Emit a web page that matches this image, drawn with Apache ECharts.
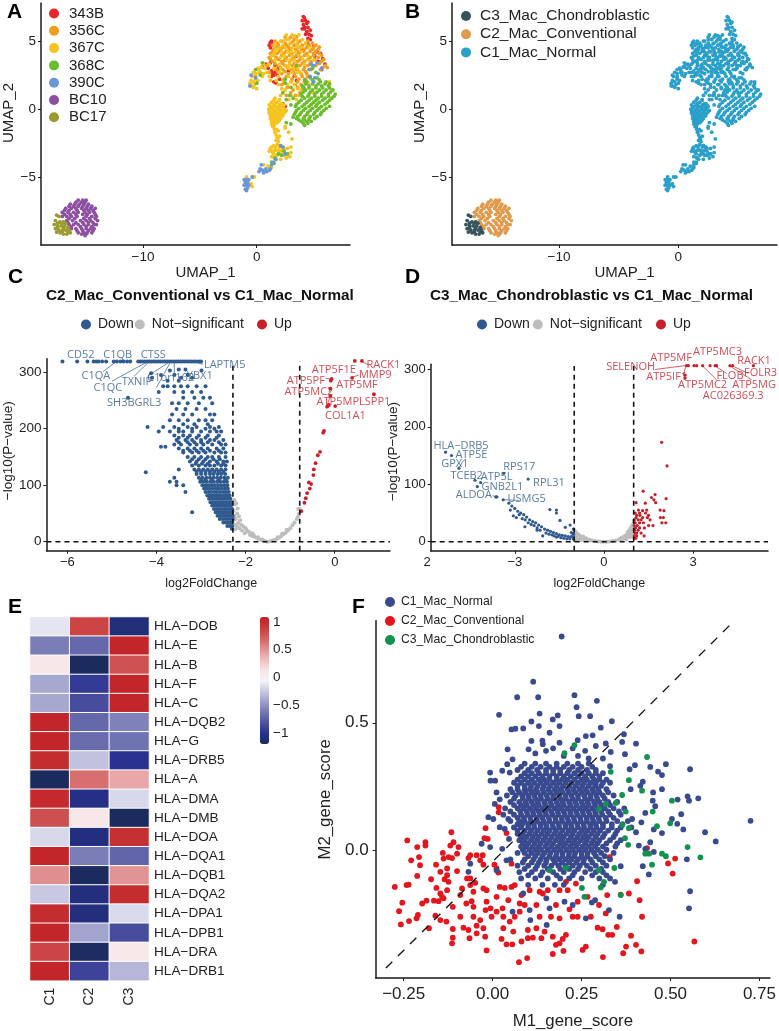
<!DOCTYPE html>
<html><head><meta charset="utf-8">
<style>html,body{margin:0;padding:0;background:#fff}#c{width:779px;height:1031px}</style>
<script src="https://cdn.jsdelivr.net/npm/echarts@6/dist/echarts.min.js"></script></head>
<body><div id="c"></div>
<script>
// rows: [y, x, x, ...]   pairs: x,y,x,y,...
const rows = rs => rs.flatMap(([y, ...xs]) => xs.map(x => [x, y]));
const pairs = a => { const o = []; for (let i = 0; i < a.length; i += 2) o.push([a[i], a[i + 1]]); return o; };

const umap343B = pairs([4.1,6.8,4.0,6.5,4.2,6.7,4.3,6.5,4.1,6.2,4.4,6.3,4.5,6.0,4.2,5.9,4.4,5.7,4.7,5.8,4.6,5.5,4.3,5.5,4.8,5.4,4.5,5.2,4.7,5.1,4.2,6.0,4.5,6.4,4.0,5.9,1.2,4.9,1.3,5.0,1.1,4.7,1.4,4.8,1.2,4.5,.8,3.3,1,3.0,1.2,3.4,1.3,2.8,1.5,2.5,1.4,2.6,1.6,2.7,1.3,2.4,1.6,3.2,.5,3.1,1.8,2.5,2,2.2,1.5,2.0,1.7,1.9,1.9,3.0,5.1,3.9,5.3,4.2,5.6,4.1,5.8,3.7,5.4,3.5,6,3.3,5.0,4.6,4.5,4.8,4,4.4,3.5,3.9,3,4.2,2.5,3.6,5.7,2.9,2.3,.4,2.5,.2,3.5,2.1,4.1,1.6,2.8,2.8,3.3,2.4]);
const umap356C = rows([[5.3,2.5,3.0,3.5],[5.15,2.8,3.3],[5,1.6,2.2,3.2,3.8,4.5],[4.85,1.8,2.5,3,3.6,4.3,4.9],[4.7,1.4,1.9,2.6,3.3,4,4.6,5.2],[4.55,1.7,2.3,2.8,3.7,4.4,5,5.5],[4.4,1.5,2.1,2.9,3.4,4.2,4.9,5.4],[4.25,1.4,2,2.6,3.6,4.1,4.7,5.2],[4.1,1.2,1.8,2.4,3.1,3.7,4.4,5,5.5],[3.95,1.5,2.2,2.9,3.5,4.2,5,5.7],[3.8,1.1,1.7,2.6,3.3,3.9,4.7,5.4],[3.65,1.2,1.9,2.5,3.1,3.8,4.5,5.1,5.9],[3.5,1.4,2.2,2.9,3.6,4.2,4.8,5.7],[3.35,1.6,2.3,3.3,4,4.7,5.5],[3.2,.9,1.9,2.5,3.1,3.8,4.5,5.2,6],[3.05,2.1,2.7,3.4,4.2,4.9,5.8,6.2],[2.9,1.7,2.3,3,3.5,4.1,4.8,5.6],[2.75,1.9,2.5,3.2,3.7,4.3],[2.7,.3,1.1],[2.6,2.2,2.8,3.3,3.9,4.4],[2.4,-.1,2.6,3.4,4,4.5],[2.2,2.4,3.1,3.7,4.3],[2,2.4,3,3.6,4.2],[1.8,2.2,3.4,3.9],[1.6,2.7,3.6],[1.4,3.2,4.1],[1.2,3,3.8],[1.0,2.6,3.4]]);
const umap367C = pairs([3.3,5.4,2.8,5.1,2.1,5.0,1.7,4.4,2.3,4.7,3.6,4.6,2.7,4.2,3.4,4.2,1.5,4.0,2.1,3.8,2.9,3.6,4,3.7,3.2,3,2.6,3.2,3.8,2.7,.2,2.9,-.1,2.6,-.3,2.0,-.6,1.9,-.5,1.7,-.3,1.6,0,1.5,-.1,2.2,.4,3.1,.6,2.6,1.2,2.1,2.2,1.5,3,2,3.6,1.5,4.5,1.9,5,1.2,6.4,2,6.6,1.4,1.6,.8,1.3,.5,1.8,.5,1.1,.3,1.5,.3,2,.3,2.4,.3,1.2,.1,1.6,.1,1.9,.1,2.3,.1,1.1,-.1,1.4,-.1,1.8,-.1,2.2,-.1,2.6,-.1,1.1,-.3,1.5,-.3,1.7,-.3,2,-.3,2.4,-.3,1.2,-.5,1.6,-.5,1.9,-.5,2.3,-.5,1.2,-.7,1.5,-.7,1.8,-.7,2.1,-.7,1.3,-.9,1.6,-.9,1.9,-.9,1.3,-1.1,1.6,-1.1,1.4,-1.3,1.5,-1.3,2.5,-1.3,1.6,-1.7,1.9,-1.6,1.7,-1.9,1.8,-2.1,2,-2.0,1.7,-2.3,1.9,-2.4,2.5,-1.4,2.8,-1.7,3.1,-2.2,1.2,-2.9,1.5,-2.7,1.8,-2.6,2.1,-2.7,1.1,-3.1,1.4,-3.2,1.7,-3.0,2,-3.1,2.4,-2.9,2.7,-2.9,1.3,-3.5,1.8,-3.4,2.4,-3.4,2.9,-3.5,3,-3.2,3,-2.8,2.1,-3.7,1.0,-4.2,.6,-4.1,1.3,-4.3,-.2,-5,-.5,-5.5,-.9,-5,-.4,-5.7]).concat(rows([[5.45,2.6,3.1,3.7],[5.1,2.5,3.5,4],[4.8,1.6,2.9,3.5,4.3],[4.5,2,2.5,3.1,3.9,4.6],[4.2,1.6,2.2,3,3.9],[3.9,1.3,2.4,3.1,3.7,4.5],[3.6,1.6,2.6,3.3,4.4,5],[3.3,.6,1.1,2,2.9,3.5,4.2],[3,.1,.7,1.5,2.1,2.8,3.6],[2.7,-.3,.2,.9,2,3.1,3.6],[2.4,-.4,.5,1.1,1.9,2.8],[2.1,-.5,.1,1.7,2.3],[1.8,-.2,1.9,2.7,3.3],[1.4,2.5,3.9],[1,2.1,3,3.7],[.7,2,2.8,3.5],[.65,1.5,2],[.4,1.6,2.2],[.2,1.3,1.75,2.15],[0,1.05,1.5,2,2.4],[-.2,1.25,1.6,2.1,2.5],[-.4,1.35,1.85,2.2],[-.6,1.4,1.75,2.1],[-.8,1.4,1.7,2],[-1,1.45,1.8],[-1.2,1.45],[-1.5,1.55,1.75],[-2.2,1.85],[-2.8,1.3,1.65,2,2.3],[-3.05,1.25,1.55,1.85,2.2],[-3.3,1.5,2.1,2.7],[-3.6,1.55,2.6]]));
const umap368C = rows([[2.3,4.7,5.3],[2.15,4.2,4.9,5.5],[2,4.4,5,5.6,6.1],[1.85,4.3,4.9,5.4,6,6.4],[1.7,4,4.6,5.2,5.7,6.3],[1.55,4.1,4.6,5.2,5.8,6.4],[1.4,4.3,4.9,5.5,6.1,6.7],[1.25,4.1,4.7,5.3,5.9,6.5],[1.1,3.9,4.6,5.1,5.7,6.3,6.9],[.95,4,4.5,5.1,5.7,6.3,6.8],[.8,4.2,4.8,5.4,6,6.6],[.65,3.9,4.6,5.2,5.8,6.4],[.5,3.7,4.4,5,5.5,6.2],[.35,3.5,4.2,4.8,5.3,6],[.2,3.4,4,4.6,5.2,5.7,6.4],[.05,3.7,4.3,4.9,5.5,6.1],[-.1,3.5,4.1,4.7,5.3,5.9],[-.25,3.4,3.9,4.5,5.1,5.7],[-.4,3.3,3.8,4.4,5,5.6],[-.55,3.6,4.2,4.7,5.3],[-.7,3.5,4.1,4.6,5.1],[-.8,3.7,4.2,4.6],[-.9,3.9,4.4,4.8],[-1.05,4.1,4.5],[-1.2,4.2]]).concat(pairs([3,1.6,2.5,1.9,2.3,1.2,2.9,1,3.2,.8,2.6,.7,3,.3,3.2,-.6,3,-1.1,2.6,-1,1.9,-3.3,2.4,-3.1,2.7,-3.3,2.2,-3.4,1.6,-3.6,1.5,-4,1.3,-3.9,2.5,2.2,3.5,3.2,.3,2.5,-.1,2.9,0,1.9,.5,3.4,4.9,3.0,5.2,2.7]));
const umap390C = pairs([5,3.2,4.8,3.3,5.3,3.4,4.6,2.9,4.7,2.4,5.1,2.3,5.4,2.6,5.7,3.0,5.0,2.0,-.5,2.5,-.6,1.7,-.1,2.3,2.1,-2.7,2.3,-2.8,2.5,-3.3,1.7,-3.7,1.5,-3.9,1.3,-4.1,.3,-4.4,.5,-4.5,.7,-4.6,.9,-4.6,1.1,-4.5,1.2,-4.4,.4,-4.1,.2,-4.6,.6,-4.7,.8,-4.4,-1.1,-5.2,-1,-5.4,-.9,-5.6,-.8,-5.8,-1,-5.9,-.9,-5.2,-.8,-5.4,-1.1,-5.6,-.9,-6.0,-.7,-5.2,-.7,-5.6,-.4,-5]);
const umapBC10 = rows([[-6.7,-15.7,-15.3,-15],[-6.85,-15.9,-15.4,-15.1],[-7,-16.4,-16,-15.6,-15.2,-14.8],[-7.15,-16.5,-16.1,-15.7,-15.3,-14.9,-14.5],[-7.3,-16.8,-16.3,-15.9,-15.4,-15,-14.6,-14.2],[-7.45,-16.9,-16.5,-15.8,-15.2,-14.8,-14.4],[-7.6,-17.1,-16.6,-16.1,-15.7,-15.1,-14.7,-14.3],[-7.75,-16.9,-16.4,-15.9,-15.3,-14.9,-14.2],[-7.9,-17.1,-16.7,-16.3,-15.8,-15,-14.5,-14.1],[-8.05,-16.5,-16,-15.2,-14.7,-14.2],[-8.2,-16.7,-16.2,-15.5,-15,-14.6,-14],[-8.35,-16.6,-15.9,-15.3,-14.8,-14.4],[-8.5,-16.5,-16.1,-15.7,-15.2,-14.8,-14.3,-14.1],[-8.65,-16.3,-15.5,-15,-14.5],[-8.8,-16.3,-15.9,-15.4,-15,-14.6,-14.3],[-8.95,-15.8,-15.3,-14.8,-14.4],[-9.1,-15.7,-15.2,-14.9,-14.5],[-9.2,-15.4,-15],[-9.3,-15.1]]);
const umapBC17 = pairs([-17.6,-7.8,-17.4,-7.9,-17.7,-8.2,-17.3,-8.3,-17,-8.3,-17.8,-8.5,-17.5,-8.6,-17.2,-8.6,-16.9,-8.6,-16.6,-8.7,-17.7,-8.8,-17.4,-8.9,-17.1,-8.9,-16.8,-8.9,-16.5,-8.9,-17.3,-9.1,-17,-9.2,-16.7,-9.2,-16.4,-9.1,-17.5,-8.4,-17.1,-8.4,-16.8,-8.4,-17.5,-8.75,-17,-8.75,-16.6,-8.75,-17.6,-9.05,-17.1,-9.05,-16.6,-9.05]);
const sampleNames = ['343B','356C','367C','368C','390C','BC10','BC17'];
const subtypeNames = ['C3_Mac_Chondroblastic','C2_Mac_Conventional','C1_Mac_Normal'];

const cDown = rows([[319,-6.11,-5.78,-5.55,-5.41,-5.35,-5.3,-5.22,-5.13,-4.96,-4.89,-4.81,-4.74,-4.66,-4.59,-4.41,-4.36,-4.31,-4.26,-4.21,-4.16,-4.11,-4.06,-4.01,-3.96,-3.91,-3.86,-3.81,-3.76,-3.71,-3.66,-3.61,-3.56,-3.51,-3.46,-3.41,-3.36,-3.31,-3.26,-3.21,-3.16,-3.11,-3.05,-3],[305,-3.5,-3.35],[303,-2.99,-3.7],[298,-4.12],[295,-3.9,-3.6,-3.3],[290,-4.1,-3.45,-3.2],[285,-3.75,-3.5],[275,-3.85,-3.75,-3.6,-3.45,-3.3,-3.1,-2.9],[265,-3.95,-3.6,-3.4,-3.2,-3],[255,-4.64,-3.4,-3.15,-2.95,-2.8],[245,-3.65,-3.5,-3.3,-3.05,-2.75],[235,-3.55,-3.35,-3.1,-2.9],[225,-3.65,-3.4,-3.2,-2.8,-2.7],[215,-3.7,-3.5,-3.3,-3.05,-2.9,-2.75],[208,-3.4,-3.15,-2.85],[203,-4.2,-3.85,-3.6,-3.3,-3.1,-2.8,-2.6],[200,-3.5,-3.2,-2.9,-2.7],[195,-3.95,-3.7,-3.5,-3.4,-3.2,-3,-2.8,-2.65,-2.55],[188,-3.6,-3.4,-3.25,-3.05,-2.85,-2.6],[184,-3.5,-3.3,-3.1,-2.9,-2.65],[180,-3.55,-3.35,-3.2,-3,-2.8,-2.7,-2.5],[176,-3.5,-3.3,-3.15,-3,-2.85,-2.6],[172,-3.6,-3.45,-3.25,-3.1,-2.95,-2.75,-2.55,-2.45],[168,-3.9,-3.8],[165,-3.5,-3.3,-3.15,-3,-2.85,-2.65,-2.5],[161,-3.4,-3.25,-3.1,-2.95,-2.8,-2.6],[158,-3.4,-3.2,-3.05,-2.9,-2.7,-2.55,-2.45],[150,-3.3,-3.15,-3,-2.85,-2.75,-2.6,-2.45],[146,-3.2,-3.05,-2.9,-2.72,-2.58],[142,-3.25,-3.1,-2.95,-2.8,-2.65,-2.5,-2.42],[138,-3.12,-2.98,-2.85,-2.62,-2.5],[135,-3.2,-3.05,-2.9,-2.8,-2.7,-2.55,-2.45],[128,-3.5,-3.15,-3.05,-2.95,-2.85,-2.75,-2.65,-2.55,-2.45],[124,-3.1,-3,-2.9,-2.8,-2.7,-2.6,-2.5],[123,-4.24],[120,-3.1,-3,-2.9,-2.8,-2.72,-2.63,-2.55,-2.46],[113,-3.6,-3.05,-2.97,-2.88,-2.8,-2.72,-2.64,-2.56,-2.48,-2.4],[110,-3,-2.9,-2.76,-2.6,-2.45],[106,-3.7,-3.55,-3.02,-2.95,-2.87,-2.79,-2.72,-2.64,-2.57,-2.49,-2.42],[100,-3.55,-3.4,-2.97,-2.9,-2.83,-2.76,-2.69,-2.62,-2.55,-2.48,-2.41],[94,-2.93,-2.87,-2.8,-2.73,-2.66,-2.6,-2.53,-2.46,-2.4],[88,-3.35,-2.9,-2.83,-2.77,-2.7,-2.64,-2.57,-2.5,-2.44,-2.38],[82,-2.86,-2.8,-2.74,-2.67,-2.61,-2.55,-2.48,-2.42,-2.36],[76,-2.82,-2.76,-2.7,-2.64,-2.58,-2.52,-2.46,-2.4,-2.34],[70,-2.79,-2.73,-2.67,-2.61,-2.55,-2.49,-2.43,-2.37,-2.32],[64,-2.75,-2.69,-2.63,-2.57,-2.51,-2.45,-2.39,-2.33],[58,-2.71,-2.65,-2.59,-2.53,-2.47,-2.41,-2.35,-2.3],[52,-3.2,-2.67,-2.61,-2.55,-2.49,-2.43,-2.37,-2.31],[46,-2.63,-2.57,-2.51,-2.45,-2.39,-2.33,-2.29],[40,-2.58,-2.52,-2.46,-2.4,-2.34,-2.29],[34,-2.5,-2.44,-2.38,-2.32],[28,-2.41,-2.35,-2.3],[23,-2.31]]);
const cNotSig = pairs([-2.25,74,-2.21,68,-2.18,59,-2.24,66,-2.27,55,-2.25,45,-2.22,40,-2.19,50,-2.15,45,-2.12,38,-2.25,30,-2.2,28,-2.27,38,-2.17,33,-2.1,30,-2.05,27,-2.14,24,-2.23,22,-2.08,20,-2,24,-1.95,18,-2.02,15,-1.9,12,-1.85,15,-1.85,10,-1.8,9,-1.75,7,-1.7,5,-1.65,3,-1.6,2,-1.55,1,-1.5,0,-1.45,1,-1.4,2,-1.35,3,-1.3,5,-1.25,7,-1.2,10,-1.15,13,-1.1,16,-1.05,20,-1,24,-.95,29,-.9,34,-.85,40,-.82,45,-.8,49,-.79,58,-.82,58,-1.62,4,-1.72,8,-1.82,12,-1.92,17,-1.98,21,-1.28,8,-1.18,14,-1.08,21]);
const cUp = pairs([.45,320,.61,320,-.07,288,-.09,285,.39,290,-.1,271,-.1,258,.88,261,-.17,239,-.13,242,.01,240,-.24,196,-.26,193,-.33,159,-.38,153,-.43,139,-.47,128,-.48,118,-.58,105,-.53,102,-.56,94,-.62,86,-.65,77,-.68,69,-.75,54]);
const cLabelsDown = [['CD52',-5.7,330],['C1QB',-4.87,330],['CTSS',-4.07,331],['LAPTM5',-2.47,313],['C1QA',-5.36,293],['C1QC',-5.09,273],['TXNIP',-4.44,283],['C1orf162',-3.68,290],['YBX1',-3.03,293],['SH3BGRL3',-4.5,246]];
const cLabelsUp = [['RACK1',1.09,313],['ATP5F1E',-.02,304],['MMP9',.91,295],['ATP5PF',-.65,285],['ATP5MF',.5,277],['ATP5MC2',-.58,265],['ATP5MPLSPP1',.42,247],['COL1A1',.24,223]];
const cLeadersDown = [[-5.0,284,-4.19,319],[-5.2,301,-4.9,319],[-4.5,293,-4.2,316],[-4.2,293,-3.73,317],[-3.6,298,-3.6,317],[-4.0,273,-3.7,316],[-2.96,314,-3.18,319]];
const cLeadersUp = [[.76,313,.61,319],[.54,295,.39,291],[-.21,289,-.07,288],[-.13,265,-.1,271],[-.17,242,-.1,258]];
const cCuts = [-2.285, -.786];

const dDown = pairs([-5.33,156,-5.13,150,-4.88,128,-4.34,107,-4.15,103,-4.26,96,-3.64,78,-3.6,78,-3.39,73,-2.55,109,-3.37,119,-3.2,67,-3.1,62,-3,58,-3.15,55,-3.05,45,-2.9,53,-2.8,50,-2.95,42,-2.7,47,-2.6,43,-2.75,40,-2.5,38,-2.4,35,-2.3,33,-2.66,26,-2.45,30,-2.2,29,-2.1,26,-2,22,-2.15,20,-2.06,10,-1.9,20,-1.8,18,-1.95,15,-1.7,16,-1.6,14,-1.75,12,-1.5,12,-1.4,11,-1.6,8,-1.3,10,-1.2,9,-1.45,7,-1.1,9,-1.03,9,-1.25,5,-1.05,14,-1.82,56,-1.6,55,-1.6,50,-1.48,37,-1.14,29,-1.3,25,-1.03,22,-1.1,16,-2.25,24,-2.35,28,-2.55,33,-2.65,38,-2.85,47,-2.25,20,-1.85,13,-1.68,10,-1.55,9,-1.35,6,-1.15,5,-1.03,5,-1.02,13]);
const dNotSig = pairs([-1,20,-1,14,-.98,10,-.95,17,-.9,14,-.9,8,-.85,12,-.82,6,-.8,10,-.75,8,-.7,6,-.7,9,-.65,4,-.6,6,-.55,3,-.5,4,-.45,2,-.4,2,-.3,1,-.2,.5,-.1,0,0,0,.1,0,.2,.5,.3,1,.4,2,.5,4,.55,5,.6,7,.65,8,.7,10,.75,11,.8,13,.8,17,.85,15,.85,20,.9,18,.9,24,.95,22,.95,28,.98,30,1,35,1,26,.92,14,.87,10,.8,8,.7,6,.6,4,-1,4,-.95,5,-.88,4,-.78,3,-.65,2,.75,4,.9,8,.98,15,.98,9]);
const dUp = rows([[306.6,2.78,2.84,3.03,3.12,3.32,3.57,3.74,3.79,4.24,4.33,5.03],[285,2.73],[290,2.73],[173,1.94],[132,2.12],[88,1.32],[82,1.72],[77,1.6],[75,2.09],[73,1.68],[68,1.08,1.74],[67,1.39],[55,1.16,1.44,1.89],[54,2.02,1.3],[50,1.05,1.2,1.4],[46,1.21,1.1,1.5],[42,1.08,1.3,1.46,1.9,2.0],[38,1.02,1.15,1.25,1.55],[33,1.05,1.2,1.33,2.08,1.95],[28,1.02,1.12,1.5,1.65],[24,1.06,1.2,1.36],[20,1.03,1.15],[15,1.05,1.1,1.25],[10,1.02,1.1,1.35],[6,1.03,1.07]]);
const dLabelsDown = [['HLA\u2212DRB5',-4.81,167],['ATP5E',-4.46,151],['GPX1',-5.02,135],['TCEB2',-4.62,115],['ATP5L',-3.61,113],['RPS17',-2.85,131],['RPL31',-1.85,103],['GNB2L1',-3.42,95],['ALDOA',-4.38,82],['USMG5',-2.6,74]];
const dLabelsUp = [['ATP5MC3',3.82,330],['ATP5MF',2.26,321],['RACK1',5.05,315],['SELENOH',.9,305],['FOLR3',5.27,294],['ATP5IF1',2.11,287],['FLOB',4.24,289],['ATP5MC2',3.32,273],['ATP5MG',5.05,273],['AC026369.3',4.35,254]];
const dLeadersUp = [[1.72,300,2.78,307],[2.67,290,2.76,306],[3.79,282,3.32,306],[4.13,293,3.74,306],[4.86,293,4.33,306],[4.97,282,4.24,306]];
const dLeadersDown = [[-4.75,140,-4.88,128],[-3.75,80,-3.6,78],[-2.85,72,-3.39,73]];
const dCuts = [-1, 1];

const hmGenes = ['HLA\u2212DOB','HLA\u2212E','HLA\u2212B','HLA\u2212F','HLA\u2212C','HLA\u2212DQB2','HLA\u2212G','HLA\u2212DRB5','HLA\u2212A','HLA\u2212DMA','HLA\u2212DMB','HLA\u2212DOA','HLA\u2212DQA1','HLA\u2212DQB1','HLA\u2212DQA2','HLA\u2212DPA1','HLA\u2212DPB1','HLA\u2212DRA','HLA\u2212DRB1'];
const hmColumns = ['C1','C2','C3'];
const hmC1 = [-.12,-.6,.1,-.4,-.4,1.05,1.05,1,-1.2,1.02,.8,-.18,1.05,.52,-.25,1,1.05,.85,1.05];
const hmC2 = [.85,-.7,-1.2,-.95,-.85,-.7,-.68,-.28,.65,-1.05,.1,-1.07,-.6,-1.2,-1.08,-1.08,-.42,-1.18,-.9];
const hmC3 = [-1.1,1.05,.78,1.05,1.05,-.58,-.65,-1,.42,-.18,-1.2,.98,-.72,.5,1,-.17,-.85,.08,-.33];

const fNormalSparse = pairs([.194,.838,.114,.661,.069,.6,.128,.6,.23,.608,.293,.586,.236,.561,.018,.531,.132,.536,.242,.526,.274,.526,.169,.513,.183,.529,.109,.505,.335,.506,.304,.481,.13,.487,.188,.487,.053,.474,.064,.477,.086,.478,.16,.461,.109,.429,.369,.455,.403,.418,.364,.425,.042,.396,.101,.396,.141,.416,.188,.422,.239,.432,.262,.448,.281,.451,.29,.409,.318,.419,.332,.386,.372,.377,.487,.338,.443,.327,.4,.334,.385,.318,.555,.318,.465,.309,.476,.295,.422,.269,.415,.253,.388,.24,.451,.227,.476,.24,.52,.199,.548,.212,.552,.195,.578,.204,.45,.195,.457,.173,.53,.142,.504,.123,.519,.104,.536,.082,.597,.071,.627,.035,.725,.116,.476,.068,.453,.082,.429,.147,.392,.123,.418,.11,.403,.071,.443,.032,.429,.006,.411,.019,.453,-.006,.546,-.035,.422,-.062,.439,-.094,.36,-.062,.344,-.123,.555,-.16,.552,-.227,.357,-.26,.327,-.234,.262,-.266,.288,-.195,.279,-.204,.225,-.214,.202,-.201,.151,-.188,.16,-.227,.104,-.234,.056,-.24,.106,-.273,.152,-.292,.086,-.169,-.063,-.052,-.068,-.084,-.031,.026,-.007,.013,.011,-.078,.039,-.039,.027,.006,-.012,.13,.002,.123,.006,.182,-.007,.305,-.006,.273,.007,.273,.011,.227,.02,.2,.02,.091,.034,.084,.046,.045,.044,.123,.027,.312,.048,.305,.056,.357,.041,.338,.12,.38,.15,.39,.2,.37,.24,.37,.27,.36,.31,.36,.33,.33,.14,.43,.17,.4,.225,.4,.26,.39]);
const fNormalCore = rows([[.34,.09,.12,.15,.18,.21,.24,.27],[.3275,.08,.11,.135,.16,.18,.2,.225,.25,.28],[.315,.07,.1,.125,.15,.17,.19,.215,.24,.265,.29],[.3025,.09,.11,.13,.15,.17,.19,.21,.23,.25,.27,.29,.31],[.29,.08,.1,.12,.14,.16,.18,.2,.22,.24,.26,.28,.3],[.2775,.07,.09,.11,.13,.145,.16,.18,.195,.21,.23,.25,.265,.285,.3,.32],[.265,.06,.08,.1,.117,.135,.152,.17,.187,.205,.222,.24,.257,.275,.29,.31,.33],[.2525,.07,.09,.108,.126,.144,.162,.18,.198,.216,.234,.252,.27,.288,.305],[.24,.05,.07,.09,.105,.122,.14,.157,.175,.192,.21,.227,.245,.262,.28,.297,.32],[.2275,.055,.075,.092,.11,.126,.144,.162,.18,.196,.214,.232,.25,.266,.284,.3,.325],[.215,.04,.065,.083,.1,.117,.135,.152,.17,.187,.205,.222,.24,.257,.275,.292,.31,.34],[.2025,.06,.085,.102,.12,.136,.154,.17,.19,.206,.224,.24,.26,.276,.294,.315],[.19,.05,.075,.093,.11,.127,.145,.162,.18,.197,.215,.232,.25,.267,.285,.3,.325,.35],[.1775,.06,.08,.096,.114,.13,.148,.166,.184,.2,.218,.236,.254,.27,.288,.306,.33],[.165,.035,.07,.087,.105,.122,.14,.157,.175,.192,.21,.227,.245,.262,.28,.297,.315,.34,.37],[.1525,.05,.078,.096,.113,.13,.148,.165,.183,.2,.218,.235,.253,.27,.288,.305,.325,.355],[.14,.03,.06,.08,.098,.115,.133,.15,.168,.185,.203,.22,.238,.255,.273,.29,.308,.33,.36],[.1275,.07,.088,.106,.124,.14,.158,.176,.194,.21,.228,.246,.264,.28,.298,.318,.34],[.115,.05,.075,.09,.108,.125,.143,.16,.178,.195,.213,.23,.248,.265,.283,.3,.32,.35,.38],[.1025,.07,.083,.1,.116,.134,.15,.168,.186,.204,.22,.238,.256,.274,.29,.31,.335,.365],[.09,.06,.08,.1,.117,.135,.152,.17,.187,.205,.222,.24,.257,.275,.292,.31,.335,.36,.39],[.0775,.07,.09,.108,.126,.144,.16,.178,.196,.214,.23,.25,.266,.284,.302,.325,.35],[.065,.07,.085,.103,.12,.138,.155,.173,.19,.208,.225,.243,.26,.278,.295,.315,.345],[.0525,.08,.095,.113,.13,.148,.166,.184,.2,.22,.238,.255,.27,.29,.31,.34],[.04,.075,.09,.108,.125,.143,.16,.178,.195,.213,.23,.248,.265,.283,.3,.33,.36],[.0275,.085,.1,.118,.135,.153,.17,.19,.206,.224,.24,.26,.278,.295,.32,.35],[.015,.08,.095,.113,.13,.148,.165,.183,.2,.218,.235,.253,.27,.288,.31,.345],[.0025,.085,.103,.12,.136,.155,.173,.19,.208,.225,.243,.26,.278,.296,.32],[-.01,.07,.09,.11,.127,.145,.162,.18,.197,.215,.232,.25,.267,.285,.305,.34],[-.0225,.1,.12,.14,.16,.178,.196,.214,.23,.25,.266,.29,.315],[-.035,.05,.09,.115,.135,.152,.17,.187,.205,.222,.24,.257,.275,.3,.33],[-.0475,.085,.11,.13,.15,.175,.195,.215,.235,.255,.28,.31],[-.06,.07,.1,.125,.145,.165,.185,.205,.225,.245,.265,.29,.32],[-.0725,.09,.12,.155,.19,.215,.24,.275,.305],[-.085,.075,.11,.14,.17,.2,.23,.26,.29,.31],[-.0975,.1,.135,.18,.225,.28,.32],[-.11,.08,.12,.155,.19,.215,.25,.3,.33],[-.135,.1,.14,.175,.2,.31]]);
const fConventional = pairs([-.24,.039,-.189,.032,-.189,.019,-.212,.013,-.116,.071,-.119,.019,-.11,.032,-.096,.013,-.02,.087,-.023,.048,-.014,.045,.017,.169,.017,.149,.039,.068,-.207,-.026,-.229,-.039,-.204,-.058,-.212,-.1,-.14,-.01,-.124,-.026,-.138,-.032,-.114,-.03,-.1,-.013,-.063,-.019,-.068,-.03,-.045,-.019,-.028,-.019,-.035,-.039,-.026,-.056,.005,-.056,.011,-.071,.016,-.087,.053,-.052,-.159,-.056,-.128,-.071,-.147,-.084,-.1,-.081,-.173,-.113,-.128,-.097,-.135,-.113,-.124,-.123,-.063,-.11,-.072,-.11,-.049,-.127,-.086,-.149,-.063,-.136,-.275,-.143,-.242,-.136,-.236,-.134,-.158,-.147,-.128,-.156,-.147,-.169,-.138,-.188,-.142,-.182,-.091,-.175,-.054,-.162,-.026,-.149,-.017,-.156,.011,-.182,.02,-.143,.034,-.147,.053,-.143,.062,-.136,.044,-.195,.081,-.175,.104,-.156,.132,-.162,.141,-.169,.155,-.156,.188,-.156,.211,-.156,.234,-.13,.206,-.123,-.254,-.205,-.198,-.208,-.186,-.197,-.165,-.197,-.152,-.199,-.112,-.221,-.074,-.208,-.059,-.199,-.054,-.221,-.017,-.201,-.02,-.234,-.006,-.227,.011,-.24,.028,-.227,.076,-.208,.09,-.214,.123,-.214,.178,-.214,.216,-.231,.239,-.201,.267,-.182,.299,-.214,.322,-.175,.383,-.169,.36,-.173,.413,-.195,.42,-.26,.406,-.121,-.263,-.238,-.21,-.253,-.214,-.266,-.258,-.29,-.235,-.277,-.179,-.305,-.161,-.256,-.147,-.273,-.13,-.279,-.091,-.26,-.054,-.26,-.035,-.273,-.003,-.26,.03,-.26,.048,-.279,.062,-.26,.076,-.24,.132,-.26,.164,-.26,.188,-.266,.225,-.26,.239,-.26,.276,-.26,.318,-.247,-.112,-.308,-.082,-.303,-.068,-.312,-.045,-.325,-.026,-.305,-.021,-.338,-.112,-.342,-.114,-.364,-.065,-.344,-.045,-.295,.03,-.305,.058,-.318,.099,-.312,.123,-.305,.146,-.318,.025,-.347,.039,-.368,.055,-.368,.081,-.357,.099,-.344,.113,-.342,.137,-.344,.169,-.338,.206,-.331,.197,-.347,.188,-.364,.178,-.37,-.017,-.392,.074,-.438,.097,-.422,.169,-.406,.199,-.394,.253,-.39,.262,-.377,.31,-.418,.295,-.303,.309,-.309,.325,-.331,.336,-.331,.349,-.3,.389,-.334,.403,-.37,.375,-.377,.367,-.403,.418,-.396,.567,-.357,.493,-.051,.513,-.032,.506,-.091,.329,-.026,.434,.009]);
const fChondroblastic = pairs([.23,.412,.434,.366,.202,.381,.332,.308,.383,.275,.42,.234,.364,.217,.346,.186,.504,.195,.45,.152,.499,.106,.462,.095,.299,.162,.374,.152,.364,.1,.383,.087,.372,.048,.381,.022,.548,.013,.429,-.013,.44,-.013,.476,-.013,.487,-.023,.584,-.027,.448,-.056,.342,-.069,.299,-.078,.313,-.123,.304,-.145,.251,-.147,.258,-.182,.36,-.175,.16,-.078,.206,-.069,.318,.182]);
const fDiagonal = [[-.3,-.461],[.672,.89]];

const FONT = '"Liberation Sans", Arial, sans-serif';
const LABELFONT = '"Open Sans", sans-serif';
const INK = '#1a1a1a';
const minus = v => String(v).replace('-', '\u2212');
const aColors = ['#e8262a','#f39c1f','#f6c420','#6cbd2c','#6a97d6','#8e4fa2','#9a9a2e'];
const bColors = ['#37535c','#e09a4d','#2a9fc9'];
const DOWN = '#2f5a8f', GREY = '#bdbdbd', UP = '#c8202a';

const grid = [
  {left:41,top:3,width:309,height:242},
  {left:452,top:3,width:325,height:242},
  {left:44,top:358.7,width:346,height:192},
  {left:430.7,top:364.3,width:337.3,height:186.4},
  {left:30,top:617,width:119,height:363.7},
  {left:268,top:617,width:1,height:127},
  {left:375.7,top:620.7,width:394.3,height:359.3}
];
const line = {show:true,onZero:false,lineStyle:{color:INK,width:1.5}};
const tick = vals => ({show:true,length:3,customValues:vals,lineStyle:{color:INK,width:1}});
const lab = (vals,size,fmt,margin) => ({show:true,customValues:vals,fontSize:size,color:'#222',margin:margin||5,formatter:fmt||minus});
const axis = (i,min,max,vals,name,size,extra) => Object.assign({type:'value',gridIndex:i,min,max,splitLine:{show:false},axisLine:line,axisTick:tick(vals),axisLabel:lab(vals,size),name,nameLocation:'middle',nameTextStyle:{fontSize:13.5,color:'#222'}},extra||{});

const xAxis = [
  axis(0,-18.97,8.2,[-10,0],'UMAP_1',13.5,{nameGap:18,nameTextStyle:{fontSize:15,color:'#222',padding:[0,0,0,20]}}),
  axis(1,-18.97,8.27,[-10,0],'UMAP_1',13.5,{nameGap:18,nameTextStyle:{fontSize:15,color:'#222',padding:[0,0,0,20]}}),
  axis(2,-6.47,1.24,[-6,-4,-2,0],'log2FoldChange',13,{nameGap:26,nameTextStyle:{fontSize:12.5,color:'#222',padding:[0,14,0,0]}}),
  axis(3,-5.83,5.52,[-5.83,-3,0,3],'log2FoldChange',13,{nameGap:26,nameTextStyle:{fontSize:12.5,color:'#222'},axisTick:tick([-3,0,3]),axisLabel:Object.assign(lab([-5.83,-3,0,3],13,v=>v<-5?'2':minus(v)),{alignMinLabel:'right'})}),
  {type:'category',gridIndex:4,data:hmColumns,axisLine:{show:false},axisTick:{show:false},splitLine:{show:false},axisLabel:{rotate:90,fontSize:14,color:'#222',margin:7}},
  {type:'value',gridIndex:5,show:false,min:0,max:1},
  axis(6,-.3287,.7795,[-.25,0,.25,.5,.75],'M1_gene_score',15,{nameGap:35,nameTextStyle:{fontSize:16.8,color:'#222'},axisLabel:lab([-.25,0,.25,.5,.75],17,v=>minus(v.toFixed(2)),8)})
];
const yAxis = [
  axis(0,-10,7.8,[-5,0,5],'UMAP_2',13.5,{nameGap:23,nameTextStyle:{fontSize:15,color:'#222',padding:[0,0,0,22]}}),
  axis(1,-10,7.8,[-5,0,5],'UMAP_2',13.5,{nameGap:23,nameTextStyle:{fontSize:15,color:'#222',padding:[0,0,0,22]}}),
  axis(2,-15.9,323.9,[0,100,200,300],'\u2212log10(P\u2212value)',13.5,{nameGap:28,nameTextStyle:{fontSize:13.5,color:'#222',padding:[0,0,0,8]}}),
  axis(3,-15.7,309,[0,100,200,300],'\u2212log10(P\u2212value)',13,{nameGap:26,nameTextStyle:{fontSize:13.5,color:'#222',padding:[0,0,0,12]}}),
  {type:'category',gridIndex:4,inverse:true,position:'right',data:hmGenes,axisLine:{show:false},axisTick:{show:false},splitLine:{show:false},axisLabel:{interval:0,fontSize:13.6,color:'#222',margin:5}},
  {type:'value',gridIndex:5,position:'right',min:-1.2,max:1.09,axisLine:{show:false},axisTick:{show:false},splitLine:{show:false},axisLabel:{customValues:[-1,-.5,0,.5,1],fontSize:13.5,color:'#222',margin:4,formatter:minus}},
  axis(6,-.5,.9,[0,.5],'M2_gene_score',15,{nameGap:36,nameTextStyle:{fontSize:16.8,color:'#222'},axisLabel:lab([0,.5],17,v=>v.toFixed(1),7)})
];

const series = [];
const scatter = (g,name,data,color,size) => series.push({type:'scatter',name,xAxisIndex:g,yAxisIndex:g,data,symbolSize:size,itemStyle:{color,opacity:1},clip:false,silent:true,animation:false});
const rule = (g,data,dash,width) => series.push({type:'line',xAxisIndex:g,yAxisIndex:g,data,showSymbol:false,symbol:'none',silent:true,animation:false,lineStyle:{color:'#111',width:width||1.6,type:dash},z:3});
const tags = (g,list,color) => series.push({type:'scatter',xAxisIndex:g,yAxisIndex:g,symbolSize:1,itemStyle:{color:'transparent'},clip:false,silent:true,animation:false,z:5,data:list.map(t=>({name:t[0],value:[t[1],t[2]]})),label:{show:true,position:'inside',formatter:'{b}',fontFamily:LABELFONT,fontSize:11,color}});
const leaders = (g,list,color) => list.forEach(s => series.push({type:'line',xAxisIndex:g,yAxisIndex:g,data:[[s[0],s[1]],[s[2],s[3]]],showSymbol:false,symbol:'none',silent:true,animation:false,clip:false,lineStyle:{color,width:.7},z:4}));

[umap343B,umap356C,umap367C,umap368C,umap390C,umapBC10,umapBC17].forEach((d,i)=>scatter(0,sampleNames[i],d,aColors[i],3.8));
scatter(1,subtypeNames[2],[...umap343B,...umap356C,...umap367C,...umap368C,...umap390C],bColors[2],3.8);
scatter(1,subtypeNames[1],umapBC10,bColors[1],3.8);
scatter(1,subtypeNames[0],umapBC17,bColors[0],3.8);

scatter(2,'Not\u2212significant',cNotSig,GREY,4);
scatter(2,'Down',cDown,DOWN,4);
scatter(2,'Up',cUp,UP,3.8);
cCuts.forEach(v=>rule(2,[[v,-15.9],[v,319]],[5,4]));
rule(2,[[-6.47,0],[1.24,0]],[5,4]);
tags(2,cLabelsDown,DOWN); tags(2,cLabelsUp,UP);
leaders(2,cLeadersDown,DOWN); leaders(2,cLeadersUp,UP);

scatter(3,'Not\u2212significant',dNotSig,GREY,4);
scatter(3,'Down',dDown,DOWN,3.2);
scatter(3,'Up',dUp,UP,3.2);
dCuts.forEach(v=>rule(3,[[v,-15.7],[v,306]],[5,4]));
rule(3,[[-5.83,0],[5.52,0]],[5,4]);
tags(3,dLabelsDown,DOWN); tags(3,dLabelsUp,UP);
leaders(3,dLeadersDown,DOWN); leaders(3,dLeadersUp,UP);

const heatIndex = series.length;
series.push({type:'heatmap',xAxisIndex:4,yAxisIndex:4,silent:true,animation:false,
  data:hmGenes.flatMap((g,r)=>[hmC1[r],hmC2[r],hmC3[r]].map((v,c)=>[c,r,v])),
  itemStyle:{borderColor:'#fff',borderWidth:1}});

scatter(6,'C2_Mac_Conventional',fConventional,'#e3161d',5.8);
scatter(6,'C1_Mac_Normal',[...fNormalSparse,...fNormalCore],'#3a4a8f',5.8);
scatter(6,'C3_Mac_Chondroblastic',fChondroblastic,'#13924f',5.8);
rule(6,fDiagonal,[9,8],1.3);

const item = (name,color) => ({name,itemStyle:{color}});
const L = (o,size) => Object.assign({icon:'circle',selectedMode:false,itemHeight:10,padding:0,textStyle:{fontFamily:FONT,color:'#222',fontSize:size}},o);
const legend = [
  L({left:49,top:6,orient:'vertical',itemGap:2.3,itemWidth:20,data:sampleNames.map((n,i)=>item(n,aColors[i]))},15),
  L({left:461,top:8,orient:'vertical',itemGap:2.2,itemWidth:18,data:subtypeNames.map((n,i)=>item(n,bColors[i]))},15.5),
  L({left:81,top:317.5,orient:'horizontal',itemGap:1,itemWidth:14,data:[item('Down',DOWN),item('Not\u2212significant',GREY)]},14),
  L({left:257,top:317.5,itemWidth:14,data:[item('Up',UP)]},14),
  L({left:477,top:317.5,orient:'horizontal',itemGap:3,itemWidth:14,data:[item('Down',DOWN),item('Not\u2212significant',GREY)]},14),
  L({left:656,top:317.5,itemWidth:14,data:[item('Up',UP)]},14),
  L({left:385,top:596,orient:'vertical',itemGap:7,itemWidth:12,data:[item('C1_Mac_Normal','#3a4a8f'),item('C2_Mac_Conventional','#e3161d'),item('C3_Mac_Chondroblastic','#13924f')]},12.2)
];

const panelTag = (t,x,y) => ({type:'text',left:x,top:y,style:{text:t,font:'bold 21px '+FONT,fill:'#000'}});
const chart = echarts.init(document.getElementById('c'),null,{renderer:'canvas'});
chart.setOption({
  animation:false,backgroundColor:'#fff',textStyle:{fontFamily:FONT},
  grid,xAxis,yAxis,series,legend,
  title:[
    {text:'C2_Mac_Conventional vs C1_Mac_Normal',left:46,top:288,padding:0,textStyle:{fontSize:15.3,fontWeight:'bold',color:'#111',fontFamily:FONT}},
    {text:'C3_Mac_Chondroblastic vs C1_Mac_Normal',left:430,top:288,padding:0,textStyle:{fontSize:15.3,fontWeight:'bold',color:'#111',fontFamily:FONT}}
  ],
  visualMap:[{type:'continuous',seriesIndex:heatIndex,min:-1.2,max:1.09,calculable:false,left:260,top:617,padding:0,itemWidth:9,itemHeight:127,showLabel:false,text:null,
    inRange:{color:['#1c2b5e','#27308f','#4d52a0','#7477b2','#9fa0cb','#c8c9e2','#f4f4fa','#f8e4e4','#efbcbc','#e09090','#d46060','#c83c3c','#c12025']}}],
  graphic:[panelTag('A',7,2),panelTag('B',405,2),panelTag('C',8,267),panelTag('D',405,267),panelTag('E',8,597),panelTag('F',352,597)]
});
</script></body></html>
